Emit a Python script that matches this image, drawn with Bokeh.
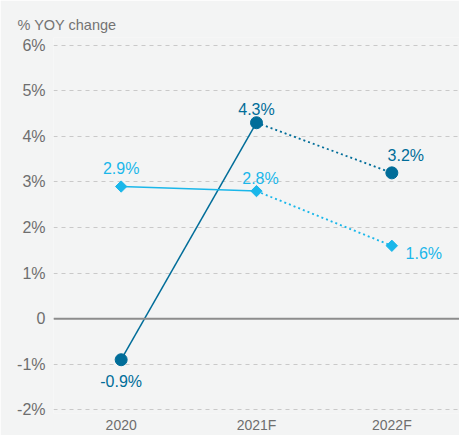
from bokeh.plotting import figure
from bokeh.models import Range1d, FixedTicker, Span, ColumnDataSource
from bokeh.embed import file_html
from bokeh.resources import INLINE
from bokeh.core.properties import value

categories = ["2020", "2021F", "2022F"]
dark_values = [-0.9, 4.3, 3.2]
light_values = [2.9, 2.8, 1.6]
y_ticks = [-2, -1, 0, 1, 2, 3, 4, 5, 6]
y_tick_labels = ["-2%", "-1%", "0", "1%", "2%", "3%", "4%", "5%", "6%"]
title_text = "% YOY change"

DARK = "#006d99"
LIGHT = "#1ab7ea"
BG = "#f3f4f4"
FONT = "Liberation Sans"

p = figure(width=459, height=435, x_range=categories, y_range=Range1d(-2.08, 6.17),
           output_backend="svg", toolbar_location=None,
           min_border_left=53, min_border_right=0, min_border_top=37, min_border_bottom=0)
p.background_fill_color = BG
p.border_fill_color = BG
p.outline_line_color = None

p.title.text = title_text
p.title.text_font = FONT
p.title.text_font_size = "14.5px"
p.title.text_font_style = "normal"
p.title.text_color = "#737373"
p.title.align = "left"
p.title.offset = -36

p.xgrid.grid_line_color = None
p.ygrid.grid_line_color = "#c9c9c9"
p.ygrid.grid_line_dash = "4 4"
p.ygrid.grid_line_width = 1.2
p.yaxis.ticker = FixedTicker(ticks=y_ticks)
p.yaxis.major_label_overrides = {t: l for t, l in zip(y_ticks, y_tick_labels)}
for ax in (p.xaxis, p.yaxis):
    ax.axis_line_color = None
    ax.major_tick_line_color = None
    ax.minor_tick_line_color = None
    ax.major_tick_out = 0
    ax.major_tick_in = 0
    ax.axis_label_standoff = 0
    ax.major_label_text_font = FONT
    ax.major_label_text_color = "#6e6e6e"
p.yaxis.major_label_text_font_size = "16px"
p.yaxis.major_label_standoff = 8
p.xaxis.major_label_text_font_size = "14px"
p.xaxis.major_label_standoff = 3

p.add_layout(Span(location=0, dimension="width", line_color="#8c8c8c", line_width=2))

# lines: solid for actual, dotted for forecast
p.line(categories[:2], dark_values[:2], line_color=DARK, line_width=1.5)
p.line(categories[1:], dark_values[1:], line_color=DARK, line_width=1.8, line_dash="2 3")
p.line(categories[:2], light_values[:2], line_color=LIGHT, line_width=1.5)
p.line(categories[1:], light_values[1:], line_color=LIGHT, line_width=1.8, line_dash="2 3")

p.scatter(categories, dark_values, marker="circle", size=12, fill_color=DARK, line_color=DARK)
p.scatter(categories, light_values, marker="square", size=8, angle=0.785398,
          fill_color=LIGHT, line_color=LIGHT)

dark_src = ColumnDataSource(dict(x=categories, y=dark_values,
                                 t=[f"{v}%" for v in dark_values],
                                 dx=[0, 0, 14], dy=[22, -13, -17]))
light_src = ColumnDataSource(dict(x=categories, y=light_values,
                                  t=[f"{v}%" for v in light_values],
                                  dx=[0, 4, 32], dy=[-18, -13, 8]))
for src, col in ((dark_src, DARK), (light_src, LIGHT)):
    p.text(x="x", y="y", text="t", source=src, x_offset="dx", y_offset="dy",
           text_color=col, text_font=value(FONT), text_font_size="16px",
           text_align="center", text_baseline="middle")

open("out.html", "w").write(file_html(p, INLINE))
